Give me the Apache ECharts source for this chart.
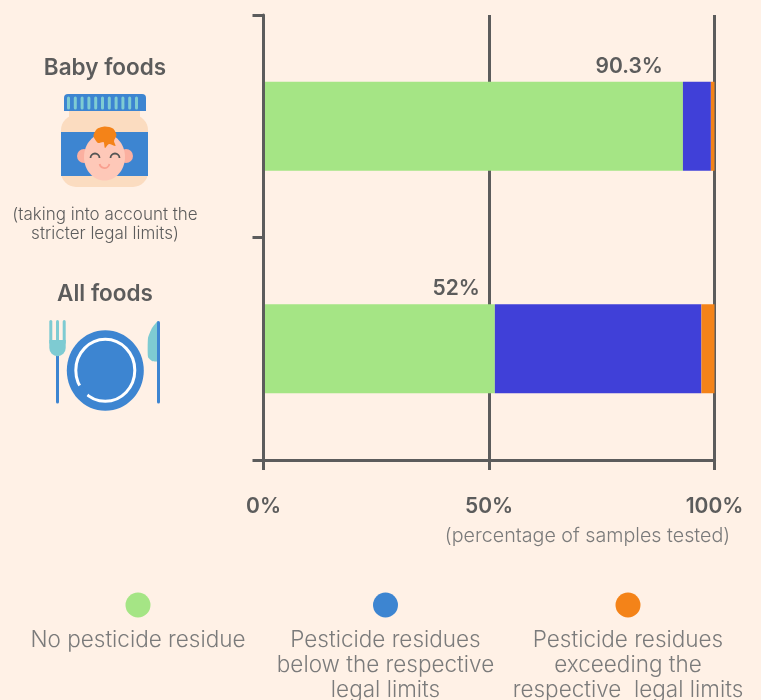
<!DOCTYPE html>
<html>
<head>
<meta charset="utf-8">
<style>
html, body { margin: 0; padding: 0; background: #fff1e6; }
#chart { width: 761px; height: 700px; }
</style>
<script src="https://cdn.jsdelivr.net/npm/echarts@6/dist/echarts.min.js"></script>
</head>
<body>
<div id="chart"></div>
<script>
const categories = ['Baby foods', 'All foods'];
const noResidue = [93, 51.3];
const belowLimits = [6.2, 45.8];
const aboveLimits = [0.8, 2.9];
const barLabels = ['90.3%', '52%'];
const xTicks = [0, 50, 100];
const legendNames = [
	'No pesticide residue',
	'Pesticide residues\nbelow the respective\nlegal limits',
	'Pesticide residues\nexceeding the\nrespective  legal limits',
];

const FONT = 'Inter';
const DARK = '#5c5c5c';
const LIGHT = '#7b7b7b';
const GREEN = '#a5e585';
const BAR_BLUE = '#4040d8';
const ICON_BLUE = '#3d85d1';
const ORANGE = '#f48318';
const TEAL = '#7ecbd2';

const txt = (x, y, text, size, weight, color, lineHeight) => ({
	type: 'text',
	x: x,
	y: y,
	style: {
		text: text,
		fill: color,
		font: weight + ' ' + size + 'px ' + FONT,
		textAlign: 'center',
		textVerticalAlign: 'middle',
		lineHeight: lineHeight,
	},
});
const rect = (x, y, width, height, fill, r) => ({
	type: 'rect',
	shape: { x: x, y: y, width: width, height: height, r: r || 0 },
	style: { fill: fill },
});

// baby food jar
const jarIcon = () => {
	const items = [
		rect(69, 108, 71, 12, '#fbdcc0'),
		rect(61, 115, 87, 72, '#fbdcc0', 15),
		rect(61, 132, 87, 44, ICON_BLUE),
		rect(64, 94, 82, 17, ICON_BLUE, [4, 4, 0, 0]),
	];
	for (let i = 0; i < 11; i++) {
		items.push(rect(67 + i * 6.8, 96.5, 3, 13, TEAL, 1.5));
	}
	items.push(
		{ type: 'circle', shape: { cx: 84, cy: 156, r: 7 }, style: { fill: '#fbb0a0' } },
		{ type: 'circle', shape: { cx: 126, cy: 156, r: 7 }, style: { fill: '#fbb0a0' } },
		{ type: 'ellipse', shape: { cx: 104.5, cy: 157, rx: 20.5, ry: 23.5 }, style: { fill: '#fec8b8' } },
		{
			type: 'polygon',
			shape: {
				points: [[93.5, 136], [97, 129], [105, 126.5], [113, 128.5], [116.5, 135], [114, 141], [115.5, 146], [109, 144], [105, 148], [103.5, 142], [98, 143]],
				smooth: 0.25,
			},
			style: { fill: ORANGE },
		},
		{ type: 'arc', shape: { cx: 95, cy: 158, r: 4.5, startAngle: Math.PI, endAngle: Math.PI * 2 }, style: { stroke: '#555', lineWidth: 1.8, fill: null } },
		{ type: 'arc', shape: { cx: 115, cy: 158, r: 4.5, startAngle: Math.PI, endAngle: Math.PI * 2 }, style: { stroke: '#555', lineWidth: 1.8, fill: null } },
		{ type: 'arc', shape: { cx: 104.5, cy: 163, r: 5, startAngle: 0.2, endAngle: Math.PI - 0.2 }, style: { stroke: '#f9a090', lineWidth: 1.8, fill: null } }
	);
	return items;
};

// plate, fork and knife
const plateIcon = () => {
	const items = [
		rect(56, 350, 3, 53.5, ICON_BLUE, 1.5),
		rect(49.3, 320, 3, 24, TEAL, 1.5),
		rect(56, 320, 3, 24, TEAL, 1.5),
		rect(62.7, 320, 3, 24, TEAL, 1.5),
		rect(49.3, 340, 16.4, 8, TEAL),
		{ type: 'sector', shape: { cx: 57.5, cy: 348, r0: 0, r: 8.2, startAngle: 0, endAngle: Math.PI }, style: { fill: TEAL } },
		{
			type: 'polygon',
			shape: {
				points: [[158, 321], [158, 361], [152, 361], [148, 357], [148, 338], [152, 328]],
				smooth: 0.15,
			},
			style: { fill: TEAL },
		},
		rect(157, 321, 3, 82.5, ICON_BLUE, 1.5),
		{ type: 'ellipse', shape: { cx: 105.3, cy: 370.5, rx: 38.5, ry: 40.3 }, style: { fill: ICON_BLUE } },
		{
			type: 'ellipse',
			shape: { cx: 105.3, cy: 370.3, rx: 29.5, ry: 31 },
			style: { stroke: '#fff', lineWidth: 3, fill: null },
		},
		// gap in the plate rim, lower left
		{
			type: 'arc',
			shape: { cx: 105.3, cy: 370.3, r: 30.2, startAngle: Math.PI * 0.7, endAngle: Math.PI * 0.83 },
			style: { stroke: ICON_BLUE, lineWidth: 5, fill: null },
		},
	];
	return items;
};

const legendColors = [GREEN, ICON_BLUE, ORANGE];
const legendX = [138, 385.5, 628];
const legendGraphics = [];
legendNames.forEach((name, i) => {
	legendGraphics.push({ type: 'circle', shape: { cx: legendX[i], cy: 605, r: 12.5 }, style: { fill: legendColors[i] } });
	legendGraphics.push(txt(legendX[i], i === 0 ? 640.5 : 665.5, name, 22.5, 300, LIGHT, 25));
});

const labelOffsets = [-20, -15];

const chart = echarts.init(document.getElementById('chart'), null, { renderer: 'canvas' });
chart.setOption({
	animation: false,
	backgroundColor: '#fff1e6',
	grid: { left: 263.5, top: 15, width: 451, height: 445, containLabel: false },
	xAxis: {
		type: 'value',
		min: 0,
		max: 100,
		interval: 50,
		axisLine: { show: true, lineStyle: { color: DARK, width: 3 } },
		axisTick: { show: true, length: 10, lineStyle: { color: DARK, width: 3 } },
		splitLine: { show: true, lineStyle: { color: DARK, width: 3 } },
		axisLabel: {
			margin: 36,
			color: DARK,
			fontFamily: FONT,
			fontSize: 21,
			fontWeight: 600,
			formatter: v => (xTicks.includes(v) ? v + '%' : ''),
		},
	},
	yAxis: {
		type: 'category',
		inverse: true,
		z: 3,
		data: categories,
		axisLine: { show: true, onZero: false, lineStyle: { color: DARK, width: 3 } },
		axisTick: { show: true, length: 11, lineStyle: { color: DARK, width: 3 } },
		axisLabel: { show: false },
		splitLine: { show: false },
	},
	series: [
		{
			name: legendNames[0],
			type: 'bar',
			stack: 'total',
			barWidth: 89,
			clip: false,
			itemStyle: { color: GREEN },
			data: noResidue.map((v, i) => ({
				value: v,
				label: {
					show: true,
					position: ['100%', i === 0 ? -15 : -16],
					offset: [labelOffsets[i], 0],
					align: 'right',
					verticalAlign: 'middle',
					formatter: barLabels[i],
					color: DARK,
					fontFamily: FONT,
					fontSize: 21,
					fontWeight: 600,
				},
			})),
		},
		{ name: legendNames[1], type: 'bar', stack: 'total', clip: false, itemStyle: { color: BAR_BLUE }, data: belowLimits },
		{ name: legendNames[2], type: 'bar', stack: 'total', clip: false, itemStyle: { color: ORANGE }, data: aboveLimits },
	],
	graphic: [
		txt(105, 68.5, categories[0], 22.5, 600, DARK),
		txt(105, 294.5, categories[1], 22.5, 600, DARK),
		txt(105, 224, '(taking into account the\nstricter legal limits)', 17, 300, DARK, 19),
		txt(587.5, 536, '(percentage of samples tested)', 19.7, 300, LIGHT),
	]
		.concat(jarIcon())
		.concat(plateIcon())
		.concat(legendGraphics),
});
</script>
</body>
</html>
